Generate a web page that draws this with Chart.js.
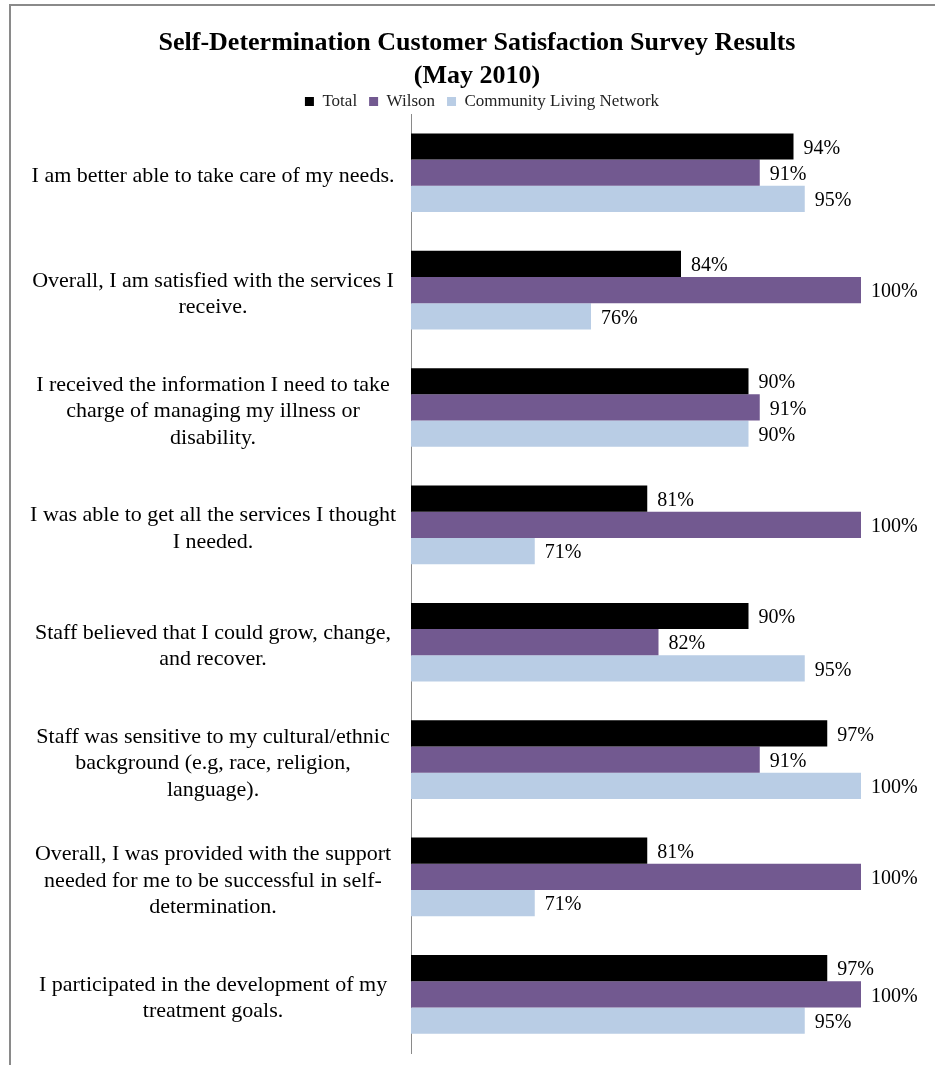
<!DOCTYPE html>
<html>
<head>
<meta charset="utf-8">
<script src="https://cdn.jsdelivr.net/npm/chart.js@4.4.1/dist/chart.umd.min.js"></script>
<style>
    html, body { margin: 0; padding: 0; background: #fff; overflow: hidden; }
    #wrap { position: relative; width: 935px; height: 1065px; }
    #frame { position: absolute; left: 9px; top: 4px; width: 2000px; height: 2000px; border: 2px solid #8a8a8a; box-sizing: border-box; }
    #chart { position: absolute; left: 0; top: 0; }
</style>
</head>
<body>
<div id="wrap">
    <div id="frame"></div>
    <canvas id="chart" width="935" height="1065"></canvas>
</div>
<script>
// Survey questions (wrapped the same way as the original)
const questions = [
    ['I am better able to take care of my needs.'],
    ['Overall, I am satisfied with the services I', 'receive.'],
    ['I received the information I need to take', 'charge of managing my illness or', 'disability.'],
    ['I was able to get all the services I thought', 'I needed.'],
    ['Staff believed that I could grow, change,', 'and recover.'],
    ['Staff was sensitive to my cultural/ethnic', 'background (e.g, race, religion,', 'language).'],
    ['Overall, I was provided with the support', 'needed for me to be successful in self-', 'determination.'],
    ['I participated in the development of my', 'treatment goals.']
];

// Percent satisfied
const totalValues = [94, 84, 90, 81, 90, 97, 81, 97];
const wilsonValues = [91, 100, 91, 100, 82, 91, 100, 100];
const clnValues = [95, 76, 90, 71, 95, 100, 71, 95];

const seriesNames = ['Total', 'Wilson', 'Community Living Network'];
const seriesColors = ['#000000', '#725990', '#b9cde5'];

Chart.defaults.font.family = '"Liberation Serif", "Times New Roman", serif';
Chart.defaults.color = '#000';

// draws the % value just past the end of each bar
const valueLabels = {
    id: 'valueLabels',
    afterDatasetsDraw(chart) {
        const ctx = chart.ctx;
        ctx.save();
        ctx.font = '20px "Liberation Serif", serif';
        ctx.fillStyle = '#000';
        ctx.textAlign = 'left';
        ctx.textBaseline = 'middle';
        chart.data.datasets.forEach((ds, i) => {
            const meta = chart.getDatasetMeta(i);
            meta.data.forEach((bar, j) => {
                ctx.fillText(ds.data[j] + '%', bar.x + 10, bar.y + 2);
            });
        });
        ctx.restore();
    }
};

// the original centres title/legend a bit right of the plot, nudge them over
const headerShift = {
    id: 'headerShift',
    afterLayout(chart) {
        if (chart.titleBlock) chart.titleBlock.left = 93;
        if (chart.legend) {
            chart.legend.left = 103;
            chart.legend.top = 81;
        }
    }
};

const allSeries = [totalValues, wilsonValues, clnValues];

new Chart(document.getElementById('chart'), {
    type: 'bar',
    data: {
        labels: questions,
        datasets: allSeries.map((vals, i) => ({
            label: seriesNames[i],
            data: vals,
            backgroundColor: seriesColors[i],
            borderWidth: 0,
            categoryPercentage: 0.67,
            barPercentage: 1.0
        }))
    },
    options: {
        indexAxis: 'y',
        responsive: false,
        animation: false,
        devicePixelRatio: 1,
        layout: {
            padding: { left: 10, right: 74, top: 0, bottom: 12 }
        },
        plugins: {
            title: {
                display: true,
                text: ['Self-Determination Customer Satisfaction Survey Results', '(May 2010)'],
                font: { size: 26, weight: 'bold', lineHeight: 1.26 },
                color: '#000',
                padding: { top: 27, bottom: 0 }
            },
            legend: {
                display: true,
                maxHeight: 21.5,
                labels: {
                    boxWidth: 9,
                    boxHeight: 9,
                    padding: 12,
                    color: '#222',
                    font: { size: 17 }
                }
            },
            tooltip: { enabled: false }
        },
        scales: {
            x: {
                display: false,
                min: 60,
                max: 100
            },
            y: {
                afterFit: (scale) => {
                    scale.width = 401;
                    scale.paddingTop = 0;
                    scale.paddingBottom = 0;
                },
                grid: { display: false, drawTicks: false, tickLength: 0 },
                border: { display: true, color: '#8a8a8a', width: 1 },
                ticks: {
                    crossAlign: 'center',
                    padding: 15,
                    labelOffset: 4,
                    color: '#000',
                    font: { size: 22, lineHeight: 1.2 }
                }
            }
        }
    },
    plugins: [valueLabels, headerShift]
});
</script>
</body>
</html>
